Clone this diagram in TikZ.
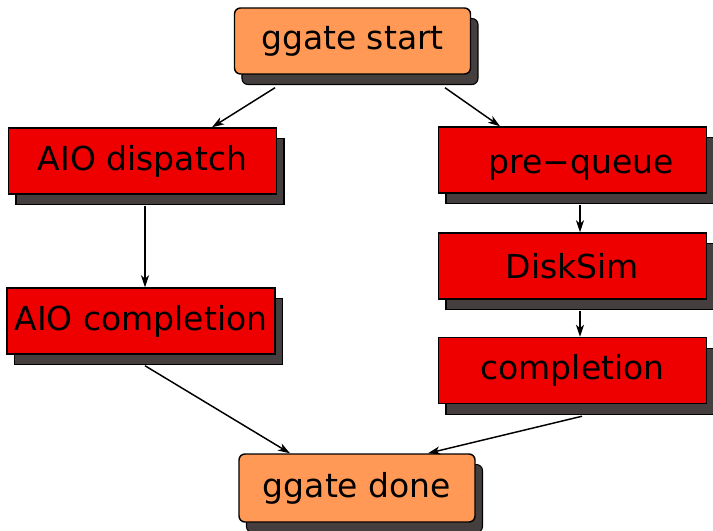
\documentclass[tikz,border=0pt]{standalone}
\usepackage{fontspec}
\setmainfont{DejaVu Sans}
\usetikzlibrary{arrows.meta, calc, shadows}

\definecolor{gateorange}{RGB}{255,153,85}
\definecolor{stagered}{RGB}{238,0,0}
\definecolor{boxshadow}{RGB}{69,62,62}

\begin{document}
\begin{tikzpicture}[
    x=0.75pt, y=-0.75pt,
    stage/.style={draw, line width=1.1pt, fill=stagered, inner sep=0pt,
                  minimum width=201pt, minimum height=49.5pt,
                  font=\fontsize{24.75pt}{30pt}\selectfont,
                  drop shadow={shadow xshift=5.6pt, shadow yshift=-7.9pt,
                               fill=boxshadow, draw=black, line width=0.8pt, opacity=1}},
    gate/.style={stage, fill=gateorange, rounded corners=4.5pt,
                 minimum width=177pt},
    flow/.style={-{Stealth[length=9pt, width=6pt, inset=2.5pt]}, line width=1.1pt},
]

\useasboundingbox (0,0) rectangle (713,531);

% ===================== ENDPOINTS =====================
\node[gate] (start) at (352.5, 41) {ggate start};
\node[gate, minimum height=51pt] (done) at (357, 488) {ggate done};

% ===================== LEFT: AIO PATH =====================
\node[stage] (disp) at (142.5, 161) {AIO dispatch};
\node[stage] (comp1) at (141, 321) {AIO completion};

% ===================== RIGHT: DISKSIM PATH =====================
% label sits a little right of and below the box centre
\node[stage] (preq) at (572.5, 160) {\hspace*{13pt}\smash{\raisebox{-9.75pt}{pre−queue}}};
\node[stage] (disk) at (572.5, 266) {DiskSim};
\node[stage] (comp2) at (572.5, 370.5) {completion};

% ===================== CONNECTORS =====================
\draw[flow] ($(start.south)+(-77.5,13)$) -- ($(disp.north)+(69.5,0)$);
\draw[flow] ($(start.south)+(92.5,13)$) -- ($(preq.north)+(-72.5,0)$);

\draw[flow] ($(disp.south)+(2.5,11)$) -- ($(comp1.north)+(4,0)$);
\draw[flow] ($(comp1.south)+(4,11)$) -- ($(done.north)+(-67,0)$);

\draw[flow] ($(preq.south)+(7.5,11)$) -- ($(disk.north)+(7.5,0)$);
\draw[flow] ($(disk.south)+(7.5,11)$) -- ($(comp2.north)+(7.5,0)$);
\draw[flow] ($(comp2.south)+(9.5,12)$) -- ($(done.north)+(71,0)$);

\end{tikzpicture}
\end{document}
